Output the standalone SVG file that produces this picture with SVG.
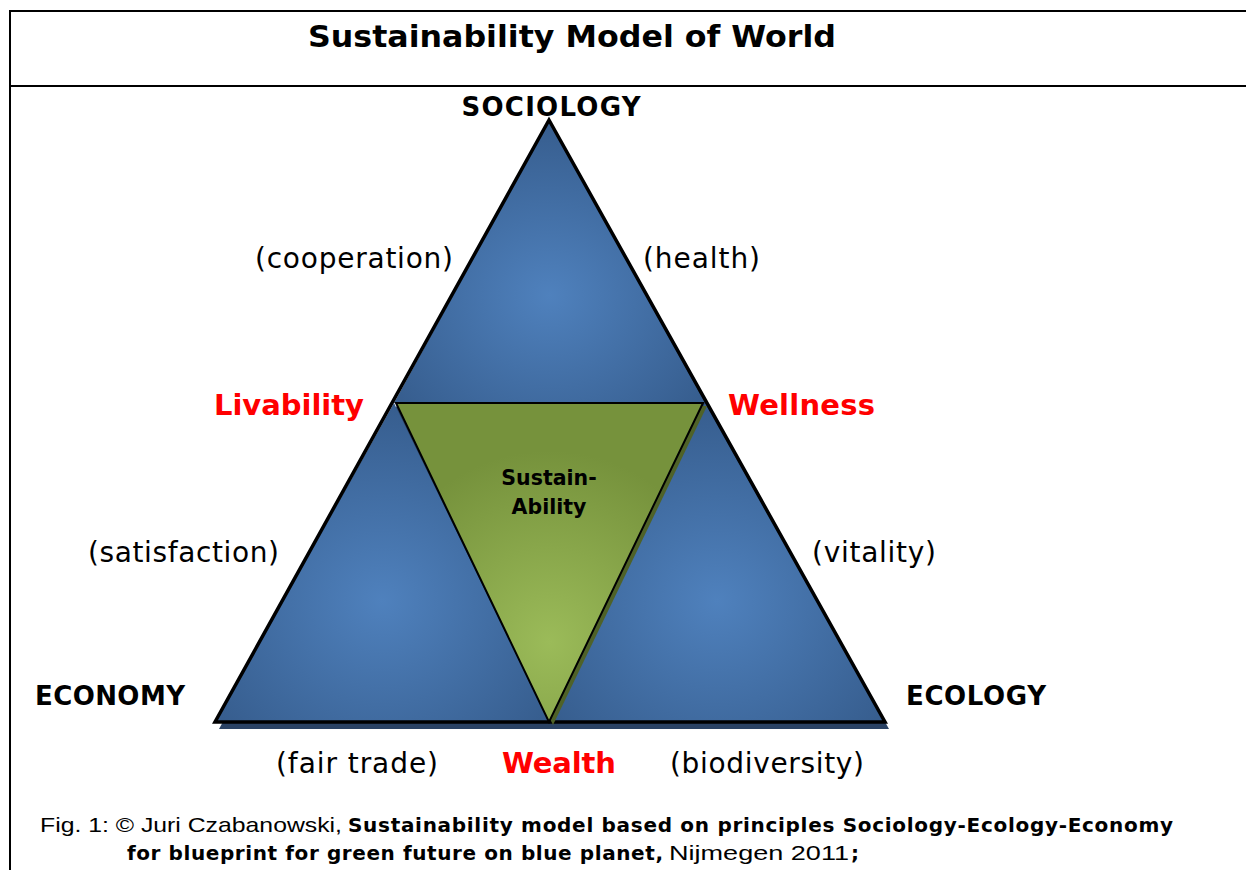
<svg xmlns="http://www.w3.org/2000/svg" width="1246" height="870" viewBox="0 0 1246 870">
<defs>
<radialGradient id="gBlue" cx="0.5" cy="0.62" r="0.6">
<stop offset="0" stop-color="#4f81bd"/>
<stop offset="1" stop-color="#375e8f"/>
</radialGradient>
<radialGradient id="gGreen" cx="0.5" cy="0.75" r="0.6">
<stop offset="0" stop-color="#9bbb59"/>
<stop offset="1" stop-color="#76923c"/>
</radialGradient>
<style>
.lbl{font-family:"DejaVu Sans","Verdana",sans-serif;font-size:28px;fill:#000}
.cap{font-family:"DejaVu Sans",sans-serif;font-weight:bold;font-size:26px;fill:#000}
.red{font-family:"DejaVu Sans",sans-serif;font-weight:bold;font-size:29px;fill:#ff0000}
.cp{font-family:"Liberation Sans",Arial,sans-serif;font-size:21px;fill:#000}
.cpb{font-family:"DejaVu Sans",sans-serif;font-weight:bold;font-size:20px;fill:#000}
</style>
</defs>
<rect width="1246" height="870" fill="#fff"/>
<g id="frame" stroke="#000" stroke-width="2" fill="none">
<line x1="10" y1="11" x2="1246" y2="11"/>
<line x1="10" y1="86" x2="1246" y2="86"/>
<line x1="10" y1="10" x2="10" y2="870"/>
</g>
<text id="title" x="572" y="47" text-anchor="middle" font-family="DejaVu Sans, sans-serif" font-weight="bold" font-size="31" textLength="528" lengthAdjust="spacingAndGlyphs">Sustainability Model of World</text>
<g id="triangle">
<polygon points="552,124 219,729 889,729" fill="#2a4264"/>
<polygon id="top" points="549,120 394,403 705,403" fill="url(#gBlue)"/>
<polygon id="left" points="394,403 215,722 549,722" fill="url(#gBlue)"/>
<polygon id="right" points="705,403 549,722 885,722" fill="url(#gBlue)"/>
<polygon points="549,120 215,722 885,722" fill="none" stroke="#000" stroke-width="3.5"/>
</g>
<g id="sustainability">
<polygon points="400,406 707,406 553,725" fill="#4f6228"/>
<polygon points="396,403 703,403 549,722" fill="url(#gGreen)" stroke="#000" stroke-width="2"/>
<text x="549" y="485" text-anchor="middle" font-family="DejaVu Sans, sans-serif" font-weight="bold" font-size="20.5">Sustain-</text>
<text x="549" y="514" text-anchor="middle" font-family="DejaVu Sans, sans-serif" font-weight="bold" font-size="20.5">Ability</text>
</g>
<g id="labels">
<text class="cap" x="551" y="116" text-anchor="middle" textLength="179">SOCIOLOGY</text>
<text class="cap" x="35" y="705" textLength="150">ECONOMY</text>
<text class="cap" x="906" y="705" textLength="140">ECOLOGY</text>
<text class="lbl" x="255" y="268" textLength="198">(cooperation)</text>
<text class="lbl" x="643" y="268" textLength="117">(health)</text>
<text class="lbl" x="88" y="562" textLength="191">(satisfaction)</text>
<text class="lbl" x="812" y="562" textLength="124">(vitality)</text>
<text class="lbl" x="276" y="773" textLength="162">(fair trade)</text>
<text class="lbl" x="670" y="773" textLength="194">(biodiversity)</text>
<text class="red" x="214" y="415" textLength="150">Livability</text>
<text class="red" x="728" y="415" textLength="147">Wellness</text>
<text class="red" x="502" y="773" textLength="114">Wealth</text>
</g>
<g id="caption">
<text class="cp" x="40" y="832" textLength="302" lengthAdjust="spacingAndGlyphs">Fig. 1: © Juri Czabanowski,</text>
<text class="cpb" x="348" y="832" textLength="825">Sustainability model based on principles Sociology-Ecology-Economy</text>
<text class="cpb" x="127" y="860" textLength="536">for blueprint for green future on blue planet,</text>
<text class="cp" x="669" y="860" textLength="180" lengthAdjust="spacingAndGlyphs">Nijmegen 2011</text>
<text class="cpb" x="851" y="860">;</text>
</g>
</svg>
